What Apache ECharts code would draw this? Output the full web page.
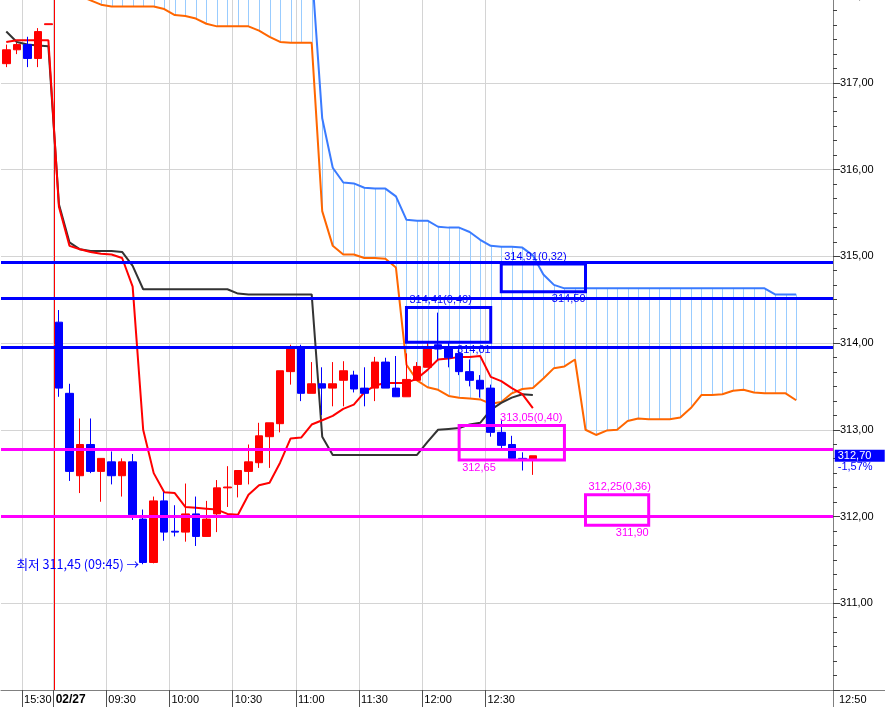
<!DOCTYPE html>
<html><head><meta charset="utf-8">
<script src="https://cdn.jsdelivr.net/npm/echarts@6/dist/echarts.min.js"></script>
<style>html,body{margin:0;padding:0;background:#fff;}#c{width:885px;height:707px;}</style>
</head><body><div id="c"></div>
<script>
// ---- categories (5-minute bars) ----
const categories = ['15:20','15:25','15:30','15:35','15:40',
 '09:05','09:10','09:15','09:20','09:25','09:30','09:35','09:40','09:45','09:50','09:55',
 '10:00','10:05','10:10','10:15','10:20','10:25','10:30','10:35','10:40','10:45','10:50','10:55',
 '11:00','11:05','11:10','11:15','11:20','11:25','11:30','11:35','11:40','11:45','11:50','11:55',
 '12:00','12:05','12:10','12:15','12:20','12:25','12:30','12:35','12:40','12:45','12:50',
 '12:55','13:00','13:05','13:10','13:15','13:20','13:25','13:30','13:35','13:40','13:45','13:50','13:55',
 '14:00','14:05','14:10','14:15','14:20','14:25','14:30','14:35','14:40','14:45','14:50','14:55',
 '15:00','15:05','15:10'];
const xLabelIdx  = [2, 5, 10, 16, 22, 28, 34, 40, 46];
const xLabelText = ['15:30','02/27','09:30','10:00','10:30','11:00','11:30','12:00','12:30'];
const yTickLabels = ['','311,00','312,00','313,00','314,00','315,00','316,00','317,00','318,00'];

// ---- candles ----
const opens = [317.22,317.38,317.44,317.28,317.67,314.24,313.42,312.47,312.83,312.52,
 312.63,312.47,312.63,311.97,311.47,312.18,311.83,311.82,312.03,311.77,
 312.03,312.33,312.37,312.52,312.62,312.92,313.07,313.67,313.95,313.42,
 313.53,313.48,313.57,313.63,313.48,313.48,313.78,313.48,313.38,313.57,
 313.72,313.98,313.95,313.88,313.67,313.57,313.48,312.97,312.83,312.67,312.65];
const closes = [317.38,317.44,317.28,317.59,317.68,313.48,312.52,312.83,312.52,312.67,
 312.47,312.63,312.02,311.47,312.18,311.82,311.82,312.03,311.77,311.97,
 312.33,312.34,312.53,312.63,312.93,313.08,313.68,313.93,313.42,313.53,
 313.48,313.53,313.68,313.47,313.42,313.78,313.48,313.38,313.58,313.73,
 313.93,313.93,313.83,313.67,313.57,313.47,312.97,312.82,312.67,312.65,312.70];
const lows = [317.18,317.33,317.18,317.18,317.67,313.38,312.41,312.27,312.50,312.17,
 312.37,312.23,311.96,311.45,311.46,311.72,311.77,311.71,311.66,311.77,
 311.82,312.11,312.22,312.37,312.56,312.56,312.97,313.52,313.33,313.42,
 313.17,313.27,313.27,313.43,313.27,313.33,313.48,313.38,313.38,313.57,
 313.72,313.81,313.72,313.63,313.50,313.37,312.92,312.78,312.65,312.53,312.48];
const highs = [317.44,317.46,317.53,317.63,317.68,314.38,313.53,313.13,313.13,312.67,
 312.75,312.67,312.72,312.08,312.23,312.28,312.13,312.38,312.23,312.18,
 312.42,312.58,312.53,312.83,313.08,313.08,313.68,313.98,313.98,313.78,
 313.72,313.78,313.79,313.68,313.72,313.84,313.83,313.85,313.88,313.78,
 314.02,314.35,314.01,313.93,313.81,313.63,313.52,313.11,312.93,312.74,312.70];

// ---- ichimoku lines ----
const tenkan = [317.47,317.49,317.49,317.49,317.49,315.57,315.12,315.08,315.05,315.03,
 315.02,314.98,314.65,313.00,312.50,312.28,312.27,312.11,312.10,312.09,
 312.08,312.03,312.02,312.25,312.36,312.39,312.62,312.90,312.91,313.06,
 313.11,313.16,313.24,313.29,313.43,313.51,313.54,313.54,313.54,313.59,
 313.69,313.81,313.82,313.84,313.84,313.85,313.61,313.56,313.48,313.41,313.25];
const kijun = [317.59,317.47,317.44,317.43,317.42,315.60,315.16,315.08,315.06,315.06,
 315.06,315.05,314.89,314.62,314.62,314.62,314.62,314.62,314.62,314.62,
 314.62,314.62,314.57,314.56,314.56,314.56,314.56,314.56,314.56,314.56,
 312.92,312.71,312.71,312.71,312.71,312.71,312.71,312.71,312.71,312.71,
 312.86,313.00,313.01,313.02,313.06,313.08,313.23,313.31,313.37,313.41,313.40];
const spanA = [318.30,318.28,318.25,318.22,318.18,318.12,318.06,318.00,317.95,317.90,
 317.88,317.88,317.88,317.88,317.88,317.85,317.78,317.77,317.74,317.68,
 317.65,317.65,317.65,317.65,317.60,317.53,317.47,317.46,317.46,317.46,
 315.52,315.12,315.02,315.02,314.98,314.98,314.97,314.87,313.75,313.57,
 313.49,313.46,313.39,313.37,313.36,313.35,313.30,313.32,313.42,313.47,
 313.48,313.59,313.71,313.73,313.81,313.00,312.94,312.99,313.00,313.10,
 313.13,313.12,313.12,313.12,313.14,313.25,313.40,313.40,313.41,313.45,
 313.46,313.43,313.42,313.42,313.42,313.34];
const spanB = [318.95,318.95,318.92,318.90,318.90,318.86,318.84,318.82,318.80,318.80,
 318.76,318.75,318.72,318.70,318.70,318.68,318.66,318.65,318.62,318.60,
 318.60,318.58,318.56,318.55,318.52,318.50,318.47,318.45,318.42,318.32,
 316.59,316.02,315.85,315.84,315.79,315.78,315.78,315.69,315.42,315.41,
 315.41,315.34,315.33,315.33,315.28,315.19,315.12,315.11,315.11,315.10,
 315.01,314.79,314.67,314.63,314.63,314.63,314.63,314.63,314.63,314.63,
 314.63,314.63,314.63,314.63,314.63,314.63,314.63,314.63,314.63,314.63,
 314.63,314.63,314.63,314.56,314.56,314.56];

// ---- horizontal levels ----
const levelPrices = [314.93, 314.52, 313.95, 312.77, 312.00];

// ---- target boxes ----
const boxStart  = [47, 38, 43, 55];
const boxEnd    = [55, 46, 53, 61];
const boxTop    = [314.91, 314.41, 313.05, 312.25];
const boxBottom = [314.59, 314.01, 312.65, 311.90];
const boxRange  = [0.32, 0.40, 0.40, 0.36];

// ---------------- styles / helpers ----------------
const FONT = '"Liberation Sans", Arial, sans-serif';
const KFONT = '"Noto Sans CJK KR", "Liberation Sans", sans-serif';
const levelColors = ['#0000ff','#0000ff','#0000ff','#ff00ff','#ff00ff'];
const boxColors = ['#0000ff','#0000ff','#ff00ff','#ff00ff'];
const boxFlipped = [false, false, true, false];
const fmt = v => v.toFixed(2).replace('.', ',');

const dayStart = xLabelIdx[xLabelText.findIndex(t => t.indexOf(':') < 0)];
const lastIdx = closes.length - 1;
const prevClose = closes[dayStart - 1];
const pct = ((closes[lastIdx] - prevClose) / prevClose * 100).toFixed(2).replace('.', ',') + '%';
let lowIdx = dayStart;
for (let i = dayStart; i < lows.length; i++) if (lows[i] < lows[lowIdx]) lowIdx = i;

const candleData = opens.map((o, i) => [o, closes[i], lows[i], highs[i]]);
const boundaryCats = categories.concat(['end']);
const isLbl = idx => xLabelIdx.indexOf(idx) >= 0;

const chart = echarts.init(document.getElementById('c'), null, {renderer: 'canvas'});

const option = {
  animation: false,
  backgroundColor: '#ffffff',
  grid: {left: 1, top: -4, width: 832, height: 694, containLabel: false, outerBoundsMode: 'none'},
  xAxis: [
    {type: 'category', data: categories, boundaryGap: true, show: false},
    {type: 'category', data: boundaryCats, boundaryGap: false, position: 'bottom',
      axisLine: {show: true, onZero: false, lineStyle: {color: '#808080', width: 1}},
      axisTick: {show: true, interval: isLbl, length: 17, lineStyle: {color: '#505050'}},
      axisLabel: {show: true, interval: isLbl, align: 'left', margin: 4, padding: [0, 0, 0, 2],
        color: '#000', fontSize: 11, fontFamily: FONT,
        formatter: (v, idx) => {
          const k = xLabelIdx.indexOf(idx);
          if (k < 0) return '';
          const t = xLabelText[k];
          return t.indexOf(':') < 0 ? '{d|' + t + '}' : t;
        },
        rich: {d: {fontWeight: 'bold', fontSize: 12, fontFamily: FONT, color: '#000'}}},
      splitLine: {show: true, interval: isLbl, lineStyle: {color: '#d4d4d4', width: 1}}}
  ],
  yAxis: {type: 'value', position: 'right', min: 310, max: 318, interval: 1,
    axisLine: {show: true, lineStyle: {color: '#808080'}},
    axisTick: {show: true, length: 7, lineStyle: {color: '#404040'}},
    minorTick: {show: true, splitNumber: 6, length: 4, lineStyle: {color: '#404040'}},
    axisLabel: {margin: 7, color: '#000', fontSize: 11, fontFamily: FONT,
      formatter: v => { const t = yTickLabels[Math.round(v - 310)]; return t === undefined ? fmt(v) : t; }},
    splitLine: {show: true, lineStyle: {color: '#d4d4d4', width: 1}}},
  series: [
    { // session separator (drawn on the boundary axis)
      type: 'custom', name: 'dateline', xAxisIndex: 1, z: 2, silent: true,
      encode: {x: 0},
      data: [[dayStart]],
      renderItem: (params, api) => {
        const cs = params.coordSys;
        const p = api.coord([api.value(0), 314]);
        const x = Math.round(p[0]) + 0.5;
        return {type: 'line', shape: {x1: x, y1: cs.y, x2: x, y2: cs.y + cs.height},
          style: {stroke: '#ff0000', lineWidth: 1}};
      }
    },
    { // cloud hatching
      type: 'custom', name: 'cloud', xAxisIndex: 0, z: 1, silent: true,
      encode: {x: 0, y: [1, 2]},
      data: spanA.map((a, i) => [i, a, spanB[i]]),
      renderItem: (params, api) => {
        const i = api.value(0);
        const p1 = api.coord([i, api.value(1)]);
        const p2 = api.coord([i, api.value(2)]);
        const cs = params.coordSys;
        const clampY = y => Math.max(cs.y, Math.min(cs.y + cs.height, y));
        const x = Math.round(p1[0]) + 0.5;
        return {type: 'line', shape: {x1: x, y1: clampY(p1[1]), x2: x, y2: clampY(p2[1])},
          style: {stroke: api.value(1) < api.value(2) ? '#99ccff' : '#ffb3b3', lineWidth: 1}};
      }
    },
    {type: 'line', name: 'spanA', data: spanA, symbol: 'none', z: 2, clip: true,
      lineStyle: {color: '#ff6600', width: 2}},
    {type: 'line', name: 'spanB', data: spanB, symbol: 'none', z: 2, clip: true,
      lineStyle: {color: '#3a7bff', width: 2}},
    {type: 'line', name: 'kijun', data: kijun, symbol: 'none', z: 3, clip: true,
      lineStyle: {color: '#333333', width: 2}},
    {type: 'line', name: 'tenkan', data: tenkan, symbol: 'none', z: 3, clip: true,
      lineStyle: {color: '#ff0000', width: 2}},
    {type: 'candlestick', name: 'price', data: candleData, barWidth: 8, z: 4,
      itemStyle: {color: '#ff0000', color0: '#0000ff', borderColor: '#ff0000', borderColor0: '#0000ff', borderWidth: 1},
      markPoint: {symbol: 'circle', symbolSize: 0, silent: true, animation: false,
        data: [
          {coord: [lowIdx, lows[lowIdx]],
            label: {show: true, position: 'left', distance: 4, color: '#0000ff', fontSize: 12.6, fontFamily: KFONT,
              formatter: '최저 ' + fmt(lows[lowIdx]) + ' (' + categories[lowIdx] + ') →'}},
          {coord: [categories.length - 1, closes[lastIdx]],
            label: {show: true, position: 'right', distance: 7, offset: [0, 6],
              formatter: '{a|' + fmt(closes[lastIdx]) + '}\n{b|' + pct + '}',
              rich: {
                a: {backgroundColor: '#0000ff', color: '#ffffff', fontSize: 11, fontFamily: FONT, width: 47, padding: [1, 0, 0, 3], lineHeight: 11},
                b: {color: '#0000ff', fontSize: 11, fontFamily: FONT, padding: [0, 0, 0, 3], lineHeight: 12}
              }}}
        ]}
    },
    {type: 'line', name: 'levels', data: [], z: 5,
      markLine: {silent: true, animation: false, symbol: ['none', 'none'], z: 5,
        label: {show: false},
        data: levelPrices.map((p, i) => ({yAxis: p, lineStyle: {color: levelColors[i], width: 3, type: 'solid'}}))}},
    { // target boxes
      type: 'custom', name: 'boxes', xAxisIndex: 0, z: 6, silent: true,
      encode: {x: [0, 1], y: [2, 3]},
      data: boxStart.map((s, i) => [s, boxEnd[i], boxTop[i], boxBottom[i], boxRange[i]]),
      renderItem: (params, api) => {
        const k = params.dataIndex;
        const tl = api.coord([api.value(0), api.value(2)]);
        const br = api.coord([api.value(1), api.value(3)]);
        const col = boxColors[k];
        const flip = boxFlipped[k];
        const font = '11px ' + FONT;
        const topText = fmt(api.value(2)) + '(' + fmt(api.value(4)) + ')';
        const botText = fmt(api.value(3));
        return {type: 'group', children: [
          {type: 'rect', shape: {x: tl[0], y: tl[1], width: br[0] - tl[0], height: br[1] - tl[1]},
            style: {fill: 'none', stroke: col, lineWidth: 3}},
          {type: 'text', x: flip ? br[0] - 2 : tl[0] + 3, y: tl[1] - 2,
            style: {text: topText, fill: col, font: font, align: flip ? 'right' : 'left', verticalAlign: 'bottom'}},
          {type: 'text', x: flip ? tl[0] + 3 : br[0], y: br[1] + 2,
            style: {text: botText, fill: col, font: font, align: flip ? 'left' : 'right', verticalAlign: 'top'}}
        ]};
      }
    }
  ],
  graphic: [
    {type: 'line', shape: {x1: 833.5, y1: 690, x2: 833.5, y2: 707}, style: {stroke: '#808080', lineWidth: 1}, silent: true},
    {type: 'line', shape: {x1: 833, y1: 690.5, x2: 885, y2: 690.5}, style: {stroke: '#808080', lineWidth: 1}, silent: true},
    {type: 'text', left: 839, top: 694, silent: true,
      style: {text: categories[lastIdx], fill: '#000', font: '11px ' + FONT}}
  ]
};
chart.setOption(option);
</script></body></html>
